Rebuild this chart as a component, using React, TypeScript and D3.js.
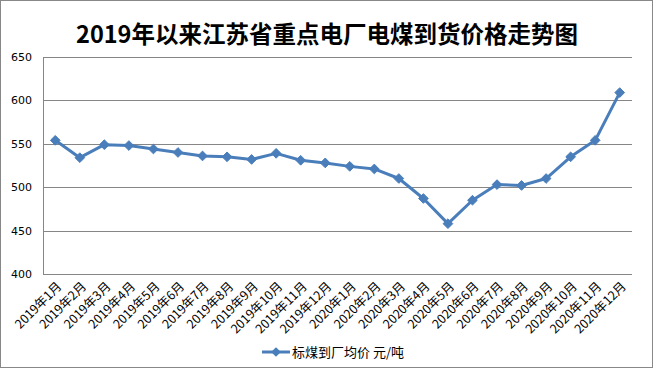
import React, { useEffect, useRef } from 'react';
import * as d3 from 'd3';

const months: string[] = [
  '2019年1月', '2019年2月', '2019年3月', '2019年4月', '2019年5月', '2019年6月',
  '2019年7月', '2019年8月', '2019年9月', '2019年10月', '2019年11月', '2019年12月',
  '2020年1月', '2020年2月', '2020年3月', '2020年4月', '2020年5月', '2020年6月',
  '2020年7月', '2020年8月', '2020年9月', '2020年10月', '2020年11月', '2020年12月',
];
const prices: number[] = [
  554, 534, 549, 548, 544, 540, 536, 535, 532, 539, 531, 528,
  524, 521, 510, 487, 458, 485, 503, 502, 510, 535, 554, 609,
];
const yTicks: number[] = [400, 450, 500, 550, 600, 650];
const title = '2019年以来江苏省重点电厂电煤到货价格走势图';
const seriesName = '标煤到厂均价 元/吨';

const W = 654;
const H = 369;

const App = () => {
  const ref = useRef<SVGSVGElement>(null);

  useEffect(() => {
    if (!ref.current) return;
    const svg = d3.select(ref.current);
    svg.selectAll('*').remove();

    const margin = { top: 57, right: 22, bottom: 95, left: 43 };
    const blue = '#4a7ebb';
    const grid = '#868686';

    // outer frame
    svg.append('rect')
      .attr('x', 0.5).attr('y', 0.5)
      .attr('width', W - 2).attr('height', H - 2)
      .attr('fill', '#fff').attr('stroke', '#888');

    svg.append('text')
      .attr('x', W / 2).attr('y', 43)
      .attr('text-anchor', 'middle')
      .attr('font-family', '"Noto Sans CJK SC", sans-serif')
      .attr('font-weight', 'bold')
      .attr('font-size', 23.5)
      .attr('fill', '#000')
      .text(title);

    const x = d3.scaleBand<string>()
      .domain(months)
      .range([margin.left, W - margin.right]);

    const y = d3.scaleLinear()
      .domain([400, 650])
      .range([H - margin.bottom, margin.top]);

    // gridlines
    svg.append('g')
      .selectAll('line')
      .data(yTicks)
      .join('line')
      .attr('x1', margin.left).attr('x2', W - margin.right)
      .attr('y1', d => Math.round(y(d)) + 0.5).attr('y2', d => Math.round(y(d)) + 0.5)
      .attr('stroke', grid);

    svg.append('line')
      .attr('x1', margin.left + 0.5).attr('x2', margin.left + 0.5)
      .attr('y1', margin.top).attr('y2', H - margin.bottom)
      .attr('stroke', grid);

    // y labels
    svg.append('g')
      .selectAll('text')
      .data(yTicks)
      .join('text')
      .attr('x', 32).attr('y', d => y(d) + 4)
      .attr('text-anchor', 'end')
      .attr('font-family', '"DejaVu Sans", sans-serif')
      .attr('font-size', 11)
      .attr('fill', '#000')
      .text(d => d);

    // x labels
    svg.append('g')
      .selectAll('text')
      .data(months)
      .join('text')
      .attr('transform', d => `translate(${x(d)! + x.bandwidth() / 2 + 1},${H - margin.bottom + 7}) rotate(-45)`)
      .attr('text-anchor', 'end')
      .attr('dy', '0.7em')
      .attr('font-family', '"Noto Sans CJK SC", sans-serif')
      .attr('font-size', 12.5)
      .attr('fill', '#000')
      .text(d => d);

    const cx = (i: number) => x(months[i])! + x.bandwidth() / 2;

    const line = d3.line<number>()
      .x((_, i) => cx(i))
      .y(d => y(d));

    svg.append('path')
      .datum(prices)
      .attr('fill', 'none')
      .attr('stroke', blue)
      .attr('stroke-width', 3)
      .attr('stroke-linejoin', 'round')
      .attr('d', line);

    const diamond = d3.symbol().type(d3.symbolDiamond2).size(60);
    svg.append('g')
      .selectAll('path')
      .data(prices)
      .join('path')
      .attr('transform', (d, i) => `translate(${cx(i)},${y(d)})`)
      .attr('d', diamond)
      .attr('fill', blue)
      .attr('stroke', blue)
      .attr('stroke-width', 1);

    // legend
    const ly = 352;
    svg.append('line')
      .attr('x1', 262).attr('x2', 290)
      .attr('y1', ly).attr('y2', ly)
      .attr('stroke', blue).attr('stroke-width', 3);
    svg.append('path')
      .attr('transform', `translate(276,${ly})`)
      .attr('d', diamond)
      .attr('fill', blue);
    svg.append('text')
      .attr('x', 292).attr('y', ly + 5)
      .attr('font-family', '"Noto Sans CJK SC", sans-serif')
      .attr('font-size', 13)
      .attr('fill', '#000')
      .text(seriesName);
  }, []);

  return (
    <svg
      ref={ref}
      width={W}
      height={H}
      style={{ position: 'absolute', left: 0, top: 0 }}
    />
  );
};

export default App;
